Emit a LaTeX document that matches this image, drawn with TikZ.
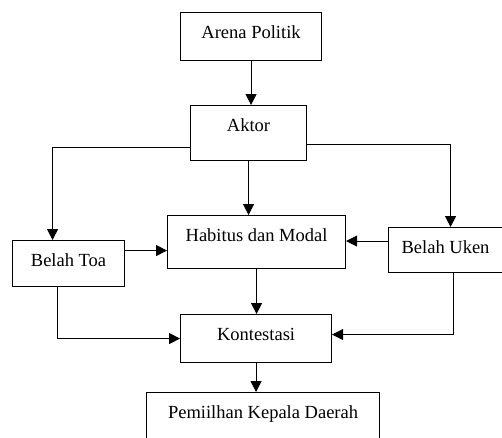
\documentclass[tikz,border=0pt]{standalone}
\usepackage{fontspec}
\setmainfont{Liberation Serif}
\usetikzlibrary{positioning, calc, arrows.meta}

\begin{document}
\begin{tikzpicture}[x=1pt, y=-1pt,
    box/.style={draw, line width=1.1pt, anchor=north west, inner xsep=0pt,
      inner ysep=13pt, text height=13pt, font=\fontsize{18.5}{20}\selectfont},
    arr/.style={line width=1pt, -{Triangle[length=11pt, width=11pt]}}]
  \useasboundingbox (0,0) rectangle (502,437);
  \clip (0,0) rectangle (502,437);
  % boxes
  \node[box, minimum width=141pt, text depth=9pt] (arena) at (180,12) {Arena Politik};
  \node[box, minimum width=116pt, text depth=16pt] (aktor) at (190,105) {Aktor};
  \node[box, minimum width=178pt, text depth=14pt] (habitus) at (167,215) {Habitus dan Modal};
  \node[box, minimum width=112pt, text depth=7pt] (toa) at (12,240) {Belah Toa};
  \node[box, minimum width=114pt, text depth=6pt] (uken) at (388,227) {Belah Uken};
  \node[box, minimum width=151pt, text depth=9pt] (konte) at (180,314) {Kontestasi};
  \node[box, minimum width=233pt, text depth=19pt] (pilkada) at (146,392) {Pemiilhan Kepala Daerah};
  % connectors
  \draw[arr] (arena.south) -- (arena.south |- aktor.north);
  \draw[arr] (aktor.south) -- (aktor.south |- habitus.north);
  \draw[arr] ([yshift=-14.5]aktor.west) -| ([xshift=-16]toa.north);
  \draw[arr] ([yshift=-11.5]aktor.east) -| ([xshift=5]uken.north);
  \draw[arr] ([yshift=13]toa.east) -- ([yshift=13]toa.east -| habitus.west);
  \draw[arr] ([yshift=9]uken.west) -- ([yshift=9]uken.west -| habitus.east);
  \draw[arr] (habitus.south) -- (habitus.south |- konte.north);
  \draw[arr] ([xshift=-11]toa.south) |- (konte.west);
  \draw[arr] ([xshift=8]uken.south) |- ([yshift=4]konte.east);
  \draw[arr] (konte.south) -- (konte.south |- pilkada.north);
\end{tikzpicture}
\end{document}
